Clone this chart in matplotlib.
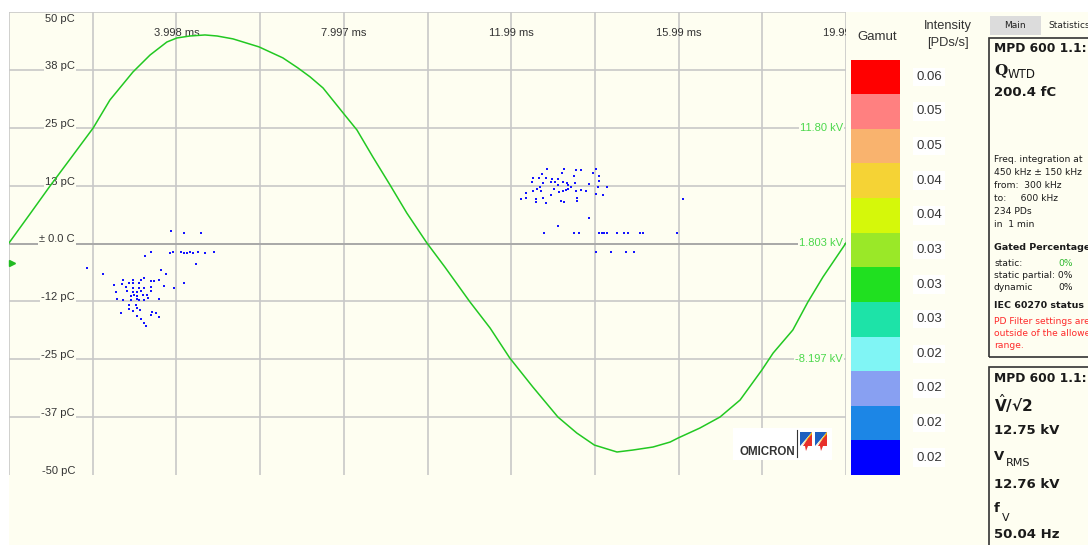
import matplotlib
matplotlib.use("Agg")
import matplotlib.pyplot as plt
from matplotlib.patches import Rectangle, Polygon

# ---------------- data ----------------
voltage_t_ms = [0.00, 0.50, 0.98, 1.46, 2.01, 2.41, 2.96, 3.37, 3.77, 4.01, 4.32, 4.68,
                4.97, 5.35, 5.97, 6.54, 6.90, 7.19, 7.50, 7.98, 8.31, 8.69, 9.10, 9.50,
                9.98, 10.41, 11.01, 11.49, 11.96, 12.51, 13.11, 13.56, 13.98, 14.52,
                14.90, 15.38, 15.79, 15.98, 16.50, 16.98, 17.46, 17.98, 18.25, 18.72,
                19.08, 19.44, 19.99]
voltage_kv = [1.85, 4.35, 6.77, 9.10, 11.78, 14.20, 16.62, 18.09, 19.21, 19.56, 19.73, 19.82,
              19.73, 19.48, 18.79, 17.84, 16.97, 16.20, 15.24, 13.08, 11.61, 9.28, 6.86, 4.44,
              1.85, -0.23, -3.25, -5.50, -8.09, -10.59, -13.19, -14.57, -15.61, -16.21,
              -16.04, -15.78, -15.35, -15.00, -14.14, -13.19, -11.72, -9.13, -7.66, -5.67,
              -3.25, -1.09, 1.85]

pd_t_ms = [3.86, 4.19, 4.59, 3.26, 3.39, 3.85, 3.92, 4.11, 4.18, 4.24, 4.32, 4.39, 4.51, 4.68,
           4.90, 4.47, 1.86, 2.24, 3.62, 3.75, 4.19, 3.23, 3.15, 2.97, 2.72, 3.38, 3.46, 3.59,
           2.71, 2.87, 2.97, 3.11, 2.51, 2.79, 2.97, 3.11, 3.23, 3.38, 3.70, 3.95, 2.55, 2.83,
           2.97, 3.06, 3.15, 3.39, 2.99, 3.06, 3.21, 3.29, 2.91, 2.59, 2.72, 2.91, 3.05, 3.11,
           3.23, 3.33, 3.59, 2.87, 3.03, 2.87, 2.95, 3.06, 3.13, 3.42, 3.51, 3.38, 2.67, 3.59,
           3.06, 3.15, 3.23, 3.27,
           12.86, 13.26, 13.54, 13.65, 14.02, 13.94, 12.74, 13.21, 13.49, 14.10, 12.52, 12.66,
           12.82, 12.96, 13.12, 12.50, 12.75, 12.94, 13.04, 13.22, 14.10, 13.12, 13.32, 13.36,
           13.52, 13.86, 12.67, 13.42, 14.06, 14.29, 12.52, 12.62, 12.71, 13.02, 13.14, 13.24,
           13.30, 13.34, 13.53, 13.65, 13.78, 12.34, 12.94, 14.02, 14.18, 12.22, 12.34, 12.59,
           12.75, 12.59, 12.82, 13.18, 13.26, 13.57, 13.57, 16.10, 13.85, 13.10,
           12.78, 13.50, 13.62, 14.10, 14.16, 14.21, 14.28, 14.51, 14.69, 14.79, 15.07, 15.15,
           15.96, 14.02, 14.38, 14.73, 14.93]
pd_pc = [2.70, 2.27, 2.27, -2.70, -1.90, -1.99, -1.84, -1.84, -2.05, -2.05, -1.84, -2.05, -1.84,
         -1.99, -1.84, -4.43, -5.29, -6.59, -5.72, -6.59, -8.47, -7.39, -7.88, -7.88, -7.88,
         -8.10, -8.10, -7.88, -8.75, -8.60, -8.60, -8.47, -9.03, -9.33, -9.68, -9.68, -9.55,
         -9.33, -9.11, -9.68, -10.41, -10.26, -10.41, -10.41, -10.19, -10.19, -11.12, -11.27,
         -11.12, -11.12, -11.34, -11.99, -12.20, -12.20, -12.05, -12.27, -12.20, -11.84, -11.99,
         -13.28, -13.28, -14.21, -14.58, -14.00, -14.36, -14.80, -15.08, -15.44, -15.08, -15.94,
         -15.66, -16.31, -17.24, -17.82,
         16.09, 16.09, 15.81, 15.81, 16.09, 15.29, 15.08, 15.29, 14.58, 14.58, 14.08, 14.21,
         14.21, 13.87, 14.00, 13.35, 13.13, 13.35, 13.35, 13.28, 13.50, 12.64, 13.00, 12.64,
         13.00, 12.79, 12.27, 12.27, 12.27, 12.27, 11.34, 11.77, 11.40, 11.77, 11.19, 11.40,
         11.56, 11.71, 11.40, 11.56, 11.34, 10.97, 10.48, 10.69, 10.48, 9.55, 9.76, 9.61,
         9.76, 9.03, 8.81, 9.18, 9.03, 9.76, 9.18, 9.55, 5.57, 3.78,
         2.33, 2.33, 2.33, 2.33, 2.33, 2.33, 2.33, 2.33, 2.33, 2.33, 2.33, 2.33,
         2.33, -1.77, -1.77, -1.77, -1.77]

trigger_pc = -4.2

q_ticks = [50, 37.5, 25, 12.5, 0, -12.5, -25, -37.5, -50]
q_labels = ["50 pC", "38 pC", "25 pC", "13 pC", "\u00b1 0.0 C", "-12 pC", "-25 pC", "-37 pC", "-50 pC"]
t_max = 19.99
t_ticks = [3.998, 7.997, 11.99, 15.99, 19.99]
t_labels = ["3.998 ms", "7.997 ms", "11.99 ms", "15.99 ms", "19.99 ms"]
kv_ticks = [11.80, 1.803, -8.197]
kv_labels = ["11.80 kV", "1.803 kV", "-8.197 kV"]
kv_center = 1.803
kv_half_span = 20.0

gamut_values = ["0.06", "0.05", "0.05", "0.04", "0.04", "0.03",
                "0.03", "0.03", "0.02", "0.02", "0.02", "0.02"]
gamut_colors = ["#FF0000", "#FF8080", "#F9B36E", "#F5D335", "#D5F80A", "#9AE828",
                "#20E020", "#1DE3A8", "#80F5F5", "#88A0F2", "#1C86E6", "#0000FF"]

# ---------------- figure ----------------
W, H = 1088, 545
CREAM = "#FEFEF1"
GRID = "#C8C8C8"
plt.rcParams["mathtext.fontset"] = "dejavusans"
fig = plt.figure(figsize=(W / 100, H / 100), dpi=100, facecolor="white")


def fx(x):
    return x / W


def fy(y):
    return 1 - y / H


# cream background of the application area
fig.patches.append(Rectangle((fx(9), 0), 1 - fx(9), fy(12), transform=fig.transFigure,
                             facecolor=CREAM, edgecolor="none", zorder=-10))

ax = fig.add_axes([fx(9), fy(475), 837 / W, 463 / H])
ax.set_facecolor(CREAM)
ax.set_xlim(0, t_max)
ax.set_ylim(-50, 50)
for s in ax.spines.values():
    s.set_visible(False)
ax.set_xticks([])
ax.set_yticks([])

# grid
for i in range(11):
    ax.axvline(i * t_max / 10, color=GRID, lw=1.2, zorder=0.5)
for q in q_ticks[:-1]:
    if q == 0:
        ax.axhline(q, color="#A8A8A8", lw=1.4, zorder=0.6)
    else:
        ax.axhline(q, color=GRID, lw=1.2, zorder=0.5)

# charge labels (left)
for q, lab in zip(q_ticks, q_labels):
    off = -7 if q == 50 else 4
    ax.annotate(lab, xy=((75 - 9) / 837, q), xycoords=("axes fraction", "data"),
                xytext=(0, off), textcoords="offset pixels", ha="right", va="center",
                fontsize=8, color="#333333", family="Liberation Sans", zorder=1,
                bbox=dict(boxstyle="square,pad=0.12", fc=CREAM, ec="none"))

# time labels (top)
for t, lab in zip(t_ticks, t_labels):
    ax.text(t, 1 - 21 / 463, lab, transform=ax.get_xaxis_transform(), ha="center", va="center",
            fontsize=8, color="#333333", family="Liberation Sans", clip_on=True, zorder=2)

# voltage labels (right)
for v, lab in zip(kv_ticks, kv_labels):
    q = (v - kv_center) / kv_half_span * 50
    ax.annotate(lab, xy=((843 - 9) / 837, q), xycoords=("axes fraction", "data"),
                ha="right", va="center", fontsize=8, color="#4CD84C",
                family="Liberation Sans", zorder=1,
                bbox=dict(boxstyle="square,pad=0.12", fc=CREAM, ec="none"))

# PD pulses
ax.scatter(pd_t_ms, pd_pc, s=2.6, marker="s", color="#1414FF", linewidths=0, zorder=2)

# trigger marker
ax.plot([0.07], [trigger_pc], marker=">", ms=4.5, color="#22BB22", clip_on=False, zorder=4)

# voltage curve on a twin axis
ax2 = ax.twinx()
ax2.set_ylim(kv_center - kv_half_span, kv_center + kv_half_span)
ax2.set_xlim(0, t_max)
ax2.axis("off")
ax2.plot(voltage_t_ms, voltage_kv, color="#22C822", lw=1.1, zorder=3)

# OMICRON logo
lax = fig.add_axes([fx(733), fy(460), 99 / W, 32 / H])
lax.set_xlim(0, 99)
lax.set_ylim(0, 32)
lax.set_xticks([])
lax.set_yticks([])
for s in lax.spines.values():
    s.set_visible(False)
lax.set_facecolor("white")
lax.text(6, 8, "OMICRON", fontsize=8.3, fontweight="bold", color="#333333",
         family="Liberation Sans", va="center", ha="left")
lax.plot([64, 64], [3, 30], color="#333333", lw=0.8)
for x0 in (67, 82):
    lax.add_patch(Polygon([(x0, 28), (x0 + 12, 28), (x0, 14)], closed=True, fc="#1D5FBF", ec="none"))
    lax.add_patch(Polygon([(x0 + 12, 28), (x0 + 12, 14), (x0 + 3, 14)], closed=True, fc="#E8302A", ec="none"))
    lax.add_patch(Polygon([(x0 + 1.5, 14), (x0 + 12, 26), (x0 + 12, 28)], closed=True, fc="#F5C400", ec="none"))
    lax.add_patch(Polygon([(x0 + 5, 14), (x0 + 8, 14), (x0 + 6, 9)], closed=True, fc="#E8302A", ec="none"))

# ---------------- gamut legend ----------------
gax = fig.add_axes([fx(851), fy(475), 49 / W, 415.5 / H])
n = len(gamut_colors)
gax.bar([0] * n, [1] * n, bottom=list(range(n)), width=1, color=gamut_colors, align="edge")
gax.set_xlim(0, 1)
gax.set_ylim(n, 0)
gax.axis("off")
for i, v in enumerate(gamut_values):
    gax.text(65 / 49, i + 0.5, v, ha="left", va="center", fontsize=9.5, color="#333333",
             family="Liberation Sans", clip_on=False,
             bbox=dict(boxstyle="square,pad=0.25", fc="white", ec="none"))

fig.text(fx(877), fy(37), "Gamut", ha="center", va="center", fontsize=9.5,
         color="#333333", family="Liberation Sans")
fig.text(fx(948), fy(26), "Intensity", ha="center", va="center", fontsize=9.3,
         color="#333333", family="Liberation Sans")
fig.text(fx(948), fy(43), "[PDs/s]", ha="center", va="center", fontsize=9.3,
         color="#333333", family="Liberation Sans")

# ---------------- right info panel ----------------
fig.patches.append(Rectangle((fx(990), fy(35)), 51 / W, 19 / H, transform=fig.transFigure,
                             fc="#DCDCDC", ec="none"))
fig.text(fx(1015), fy(26), "Main", ha="center", va="center", fontsize=6.5, color="#222222")
fig.text(fx(1048), fy(26), "Statistics", ha="left", va="center", fontsize=6.5, color="#222222")

fig.patches.append(Rectangle((fx(989), fy(357)), 120 / W, 319 / H, transform=fig.transFigure,
                             fc="none", ec="#333333", lw=1.2))
fig.patches.append(Rectangle((fx(989), fy(570)), 120 / W, 203 / H, transform=fig.transFigure,
                             fc="none", ec="#333333", lw=1.2))

X0 = fx(994)
bold = dict(fontweight="bold", color="#1A1A1A", va="center", ha="left")
small = dict(fontsize=6.6, color="#1A1A1A", va="center", ha="left")

fig.text(X0, fy(48), "MPD 600 1.1:", fontsize=8.8, **bold)
fig.text(X0, fy(70), "Q", fontsize=11, family="DejaVu Serif", **bold)
fig.text(fx(1008), fy(74), "WTD", fontsize=8.5, color="#1A1A1A", va="center", ha="left")
fig.text(X0, fy(93), "200.4 fC", fontsize=9.5, **bold)

info_lines = ["Freq. integration at", "450 kHz \u00b1 150 kHz", "from:  300 kHz",
              "to:     600 kHz", "234 PDs", "in  1 min"]
for i, line in enumerate(info_lines):
    fig.text(X0, fy(160 + 12.9 * i), line, **small)

fig.text(X0, fy(247), "Gated Percentage", fontsize=6.8, **bold)
fig.text(X0, fy(263), "static:", **small)
fig.text(fx(1058), fy(263), "0%", fontsize=6.6, color="#2EB82E", va="center", ha="left")
fig.text(X0, fy(276), "static partial: 0%", **small)
fig.text(X0, fy(288), "dynamic", **small)
fig.text(fx(1058), fy(288), "0%", **small)
fig.text(X0, fy(306), "IEC 60270 status", fontsize=6.8, **bold)
for i, line in enumerate(["PD Filter settings are", "outside of the allowed", "range."]):
    fig.text(X0, fy(321 + 12 * i), line, fontsize=6.6, color="#FF2A2A", va="center", ha="left")

fig.text(X0, fy(404), r"$\hat{\mathbf{V}}$/\u221a2".replace("\\u221a", "\u221a"), fontsize=11, **bold)
fig.text(X0, fy(431), "12.75 kV", fontsize=9.5, **bold)
fig.text(X0, fy(456), "V", fontsize=9.5, **bold)
fig.text(fx(1006), fy(463), "RMS", fontsize=8, color="#1A1A1A", va="center", ha="left")
fig.text(X0, fy(484), "12.76 kV", fontsize=9.5, **bold)
fig.text(X0, fy(509), "f", fontsize=9.5, **bold)
fig.text(fx(1002), fy(518), "V", fontsize=8, color="#1A1A1A", va="center", ha="left")
fig.text(X0, fy(535), "50.04 Hz", fontsize=9.5, **bold)
fig.text(X0, fy(378), "MPD 600 1.1:", fontsize=8.8, **bold)

fig.savefig("out.png", dpi=100, facecolor="white")
